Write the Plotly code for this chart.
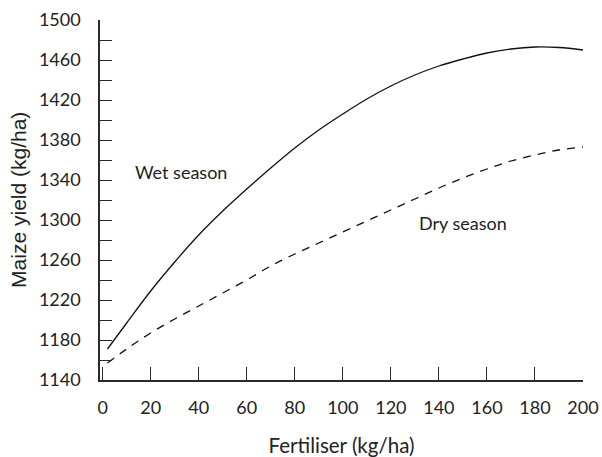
import plotly.graph_objects as go

# Data
fertiliser = [2, 10, 20, 30, 40, 50, 60, 70, 80, 90, 100, 110, 120, 130, 140,
              150, 160, 170, 180, 190, 200]
wet_season = [1171, 1197, 1229, 1258, 1285, 1309, 1331, 1352, 1372, 1390, 1406,
              1421, 1434, 1445, 1454, 1461, 1467, 1471, 1473, 1472.5, 1470]
dry_season = [1157, 1171, 1187, 1201, 1214, 1227, 1240, 1254, 1266, 1277, 1288,
              1299, 1310, 1321, 1332, 1342, 1351, 1359, 1365, 1370, 1373]
x_ticks = list(range(0, 201, 20))

AX = "#2a2a2a"
FONT = "Lato"

fig = go.Figure()
fig.add_trace(go.Scatter(x=fertiliser, y=wet_season, mode="lines", name="Wet season",
                         line=dict(color="#111", width=1.3, shape="spline")))
fig.add_trace(go.Scatter(x=fertiliser, y=dry_season, mode="lines", name="Dry season",
                         line=dict(color="#111", width=1.3, shape="spline", dash="8px,7px")))

fig.add_annotation(x=32.7, y=1348, xref="x", yref="y", text="Wet season",
                   showarrow=False, font=dict(family=FONT, size=18, color="#222"))
fig.add_annotation(x=150.2, y=1297, xref="x", yref="y", text="Dry season",
                   showarrow=False, font=dict(family=FONT, size=18, color="#222"))
# y-axis title placed as rotated annotation for exact position
fig.add_annotation(x=-0.17, y=0.5, xref="paper", yref="paper", text="Maize yield (kg/ha)",
                   textangle=-90, showarrow=False, xanchor="center", yanchor="middle",
                   font=dict(family="Liberation Sans", size=21, color="#222"))

fig.update_layout(
    width=602, height=457,
    margin=dict(l=100, r=19, t=20, b=77),
    paper_bgcolor="white", plot_bgcolor="white",
    showlegend=False,
    font=dict(family=FONT, size=18, color="#222"),
    xaxis=dict(range=[-1.1, 200], tickvals=x_ticks, ticks="inside", ticklen=13,
               tickwidth=1.3, tickcolor=AX, showline=True, linecolor=AX, linewidth=1.5,
               showgrid=False, zeroline=False, ticklabelstandoff=11, automargin=False,
               tickfont=dict(family=FONT, size=18, color="#222"),
               title=dict(text="Fertiliser (kg/ha)", standoff=21,
                          font=dict(family=FONT, size=20.5, color="#222"))),
    yaxis=dict(range=[1140, 1500], tick0=1140, dtick=40, ticks="inside", ticklen=12,
               tickwidth=1.3, tickcolor=AX, showline=True, linecolor=AX, linewidth=1.5,
               showgrid=False, zeroline=False, ticklabelstandoff=14, automargin=False,
               minor=dict(dtick=20, ticks="inside", ticklen=12, tickwidth=1.3,
                          tickcolor=AX, showgrid=False),
               tickfont=dict(family=FONT, size=18, color="#222")),
)

fig.write_html("out.html", config={"displayModeBar": False},
               post_script="document.body.style.margin='0';document.body.style.overflow='hidden';")
